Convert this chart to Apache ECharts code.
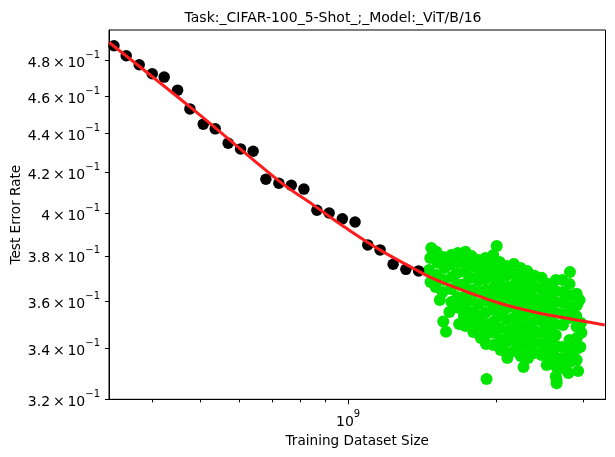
<!DOCTYPE html>
<html>
<head>
<meta charset="UTF-8">
<title>Task: CIFAR-100 5-Shot ; Model: ViT/B/16</title>
<style>html,body{margin:0;padding:0;background:#fff;}</style>
</head>
<body>
<div id="main" style="width:615px;height:457px"></div>
<script src="https://cdn.jsdelivr.net/npm/echarts@6.0.0/dist/echarts.min.js"></script>
<script>
// source runs (black dots)
var sourceX = [3.346e8, 3.544e8, 3.766e8, 4.002e8, 4.232e8, 4.506e8, 4.773e8, 5.080e8, 5.372e8, 5.708e8,
  6.048e8, 6.414e8, 6.808e8, 7.234e8, 7.667e8, 8.131e8, 8.641e8, 9.151e8, 9.732e8, 1.033e9,
  1.096e9, 1.161e9, 1.234e9, 1.310e9, 1.390e9];
var sourceY = [0.4887, 0.4829, 0.4777, 0.4726, 0.4707, 0.4634, 0.4531, 0.4449, 0.4424, 0.4349,
  0.4319, 0.4307, 0.4165, 0.4145, 0.4135, 0.4116, 0.4013, 0.4000, 0.3972, 0.3957,
  0.3850, 0.3827, 0.3762, 0.3739, 0.3732];

// fitted curve
var fitX = [3.273e8, 4.885e8, 7.267e8, 8.492e8, 9.925e8, 1.160e9, 1.355e9, 1.485e9, 1.741e9, 2.031e9, 2.371e9, 2.779e9, 3.318e9];
var fitY = [0.4906, 0.4520, 0.4153, 0.4039, 0.3927, 0.3827, 0.3744, 0.3699, 0.3640, 0.3590, 0.3554, 0.3526, 0.3498];

// target runs (green dots), x in units of 1e9
var targetX = [
  1.475, 1.468, 1.46, 1.47,
  1.51, 1.52, 1.515, 1.505,
  1.56, 1.57, 1.565, 1.555, 1.535,
  1.62, 1.61, 1.625, 1.615, 1.62, 1.605,
  1.67, 1.675, 1.665, 1.672, 1.668, 1.68, 1.68,
  1.73, 1.72, 1.728, 1.722, 1.73, 1.725, 1.718, 1.73,
  1.78, 1.79, 1.775, 1.785, 1.78, 1.79, 1.785, 1.795,
  1.84, 1.845, 1.838, 1.85, 1.84, 1.845, 1.85, 1.86,
  1.90, 1.91, 1.898, 1.905, 1.91, 1.90, 1.908, 1.90, 1.905,
  1.97, 1.96, 1.965, 1.972, 1.96, 1.968, 1.975, 1.965, 1.97,
  2.03, 2.04, 2.025, 2.035, 2.03, 2.038, 2.028, 2.035, 2.04,
  2.10, 2.095, 2.105, 2.10, 2.09, 2.10, 2.11, 2.095, 2.10, 2.105,
  2.17, 2.165, 2.175, 2.16, 2.17, 2.168, 2.175, 2.165, 2.17,
  2.24, 2.235, 2.245, 2.24, 2.25, 2.238, 2.242, 2.248, 2.24,
  2.31, 2.32, 2.315, 2.31, 2.32, 2.312, 2.318, 2.325, 2.32,
  2.39, 2.395, 2.385, 2.392, 2.40, 2.39, 2.388, 2.395,
  2.47, 2.475, 2.465, 2.47, 2.478, 2.468, 2.472, 2.47,
  2.55, 2.56, 2.548, 2.555, 2.55, 2.56, 2.552, 2.558,
  2.64, 2.635, 2.642, 2.638, 2.63, 2.64, 2.645, 2.635, 2.64,
  2.72, 2.73, 2.725, 2.72, 2.73, 2.72, 2.73, 2.725,
  2.82, 2.815, 2.82, 2.825, 2.81, 2.815, 2.822, 2.818,
  2.91, 2.915, 2.905, 2.91, 2.912, 2.908, 2.91,
  2.95, 2.97, 2.975, 2.96,
  2.003, 1.91, 2.27, 2.53, 2.65, 2.65, 2.64, 2.80, 2.93, 2.67, 1.56, 1.58
];
var targetY = [
  0.3836, 0.3790, 0.3736, 0.3683,
  0.3818, 0.3768, 0.3714, 0.3661,
  0.3795, 0.3745, 0.3692, 0.3639, 0.3604,
  0.3804, 0.3759, 0.3705, 0.3652, 0.3596, 0.3553,
  0.3813, 0.3772, 0.3723, 0.3670, 0.3617, 0.3570, 0.3502,
  0.3818, 0.3768, 0.3727, 0.3674, 0.3622, 0.3579, 0.3536, 0.3494,
  0.3799, 0.3754, 0.3701, 0.3648, 0.3604, 0.3553, 0.3511, 0.3469,
  0.3781, 0.3736, 0.3688, 0.3639, 0.3587, 0.3536, 0.3494, 0.3444,
  0.3790, 0.3745, 0.3696, 0.3648, 0.3600, 0.3549, 0.3502, 0.3456, 0.3419,
  0.3804, 0.3754, 0.3705, 0.3657, 0.3609, 0.3561, 0.3511, 0.3465, 0.3415,
  0.3772, 0.3727, 0.3679, 0.3631, 0.3583, 0.3536, 0.3485, 0.3440, 0.3395,
  0.3754, 0.3710, 0.3661, 0.3613, 0.3566, 0.3519, 0.3473, 0.3428, 0.3382, 0.3362,
  0.3763, 0.3718, 0.3670, 0.3622, 0.3574, 0.3527, 0.3481, 0.3436, 0.3391,
  0.3745, 0.3696, 0.3648, 0.3600, 0.3553, 0.3506, 0.3460, 0.3415, 0.3370,
  0.3732, 0.3683, 0.3635, 0.3587, 0.3540, 0.3494, 0.3448, 0.3403, 0.3362,
  0.3710, 0.3661, 0.3613, 0.3566, 0.3519, 0.3473, 0.3428, 0.3382,
  0.3701, 0.3652, 0.3604, 0.3557, 0.3511, 0.3465, 0.3419, 0.3374,
  0.3674, 0.3626, 0.3579, 0.3532, 0.3485, 0.3440, 0.3395, 0.3350,
  0.3692, 0.3644, 0.3596, 0.3549, 0.3502, 0.3456, 0.3411, 0.3366, 0.3330,
  0.3692, 0.3639, 0.3592, 0.3544, 0.3498, 0.3407, 0.3362, 0.3322,
  0.3727, 0.3674, 0.3622, 0.3574, 0.3527, 0.3436, 0.3391, 0.3346,
  0.3631, 0.3583, 0.3536, 0.3490, 0.3444, 0.3399, 0.3354,
  0.3604, 0.3506, 0.3465, 0.3407,
  0.3845, 0.3279, 0.3326, 0.3334, 0.3275, 0.3262, 0.3290, 0.3302, 0.3310, 0.3341, 0.3512, 0.3470
];

var yTicks = [0.32, 0.34, 0.36, 0.38, 0.40, 0.42, 0.44, 0.46, 0.48];
var xMajorTicks = [1e9];
var xMinorTicks = [4e8, 5e8, 6e8, 7e8, 8e8, 9e8, 2e9, 3e9];
var xMin = 3.27e8, xMax = 3.33e9;
var yMin = 0.32, yMax = 0.498;

function zip(xs, ys, scale) {
  var out = [];
  for (var i = 0; i < xs.length; i++) out.push([xs[i] * scale, ys[i]]);
  return out;
}

var chart = echarts.init(document.getElementById('main'));
var font = 'DejaVu Sans';
var supRich = {
  m: { fontFamily: font, fontSize: 14, color: '#000', lineHeight: 20, verticalAlign: 'bottom' },
  s: { fontFamily: font, fontSize: 10, color: '#000', lineHeight: 10, verticalAlign: 'top' }
};

var option = {
  animation: false,
  backgroundColor: '#fff',
  textStyle: { fontFamily: font },
  title: {
    text: 'Task:_CIFAR-100_5-Shot_;_Model:_ViT/B/16',
    left: 328,
    top: 6,
    textAlign: 'center',
    textStyle: { fontFamily: font, fontSize: 14, fontWeight: 'normal', color: '#000' }
  },
  grid: {
    left: 109, right: 9.5, top: 30, bottom: 57.7,
    show: true, borderColor: '#000', borderWidth: 1,
    containLabel: false, outerBoundsMode: 'none'
  },
  xAxis: [{
    type: 'log',
    min: xMin, max: xMax,
    position: 'bottom',
    name: 'Training Dataset Size',
    nameLocation: 'middle',
    nameGap: 35,
    nameMoveOverlap: false,
    nameTextStyle: { fontFamily: font, fontSize: 13.6, color: '#000' },
    axisLine: { show: true, lineStyle: { color: '#000', width: 1 } },
    axisTick: { show: true, length: 5, customValues: xMajorTicks, lineStyle: { color: '#000' } },
    axisLabel: {
      show: true, margin: 10, customValues: xMajorTicks,
      formatter: function (v) { return '{m|10}{s|9}'; },
      rich: supRich
    },
    splitLine: { show: false }
  }, {
    type: 'log',
    min: xMin, max: xMax,
    position: 'bottom',
    axisLine: { show: false },
    axisTick: { show: true, length: 3, customValues: xMinorTicks, lineStyle: { color: '#000' } },
    axisLabel: { show: false },
    splitLine: { show: false }
  }],
  yAxis: {
    type: 'log',
    min: yMin, max: yMax,
    name: 'Test Error Rate',
    nameLocation: 'middle',
    nameGap: 86,
    nameMoveOverlap: false,
    nameTextStyle: { fontFamily: font, fontSize: 13.6, color: '#000' },
    axisLine: { show: true, lineStyle: { color: '#000', width: 1 } },
    axisTick: { show: true, length: 4, customValues: yTicks, lineStyle: { color: '#000' } },
    axisLabel: {
      show: true, margin: 9, customValues: yTicks,
      formatter: function (v) {
        var m = Math.round(v * 100) / 10;
        return '{m|' + m + '\u2009\u00d7\u200910}{s|\u22121}';
      },
      rich: supRich
    },
    splitLine: { show: false }
  },
  series: [{
    name: 'target',
    type: 'scatter',
    symbol: 'circle',
    symbolSize: 12,
    itemStyle: { color: '#00e600', opacity: 1 },
    data: zip(targetX, targetY, 1e9),
    z: 2
  }, {
    name: 'source',
    type: 'scatter',
    symbol: 'circle',
    symbolSize: 11.5,
    itemStyle: { color: '#000', opacity: 1 },
    data: zip(sourceX, sourceY, 1),
    z: 3
  }, {
    name: 'fit',
    type: 'line',
    smooth: 0.4,
    showSymbol: false,
    symbol: 'none',
    lineStyle: { color: '#ff1c1c', width: 3 },
    data: zip(fitX, fitY, 1),
    z: 4
  }]
};
chart.setOption(option);
</script>
</body>
</html>
